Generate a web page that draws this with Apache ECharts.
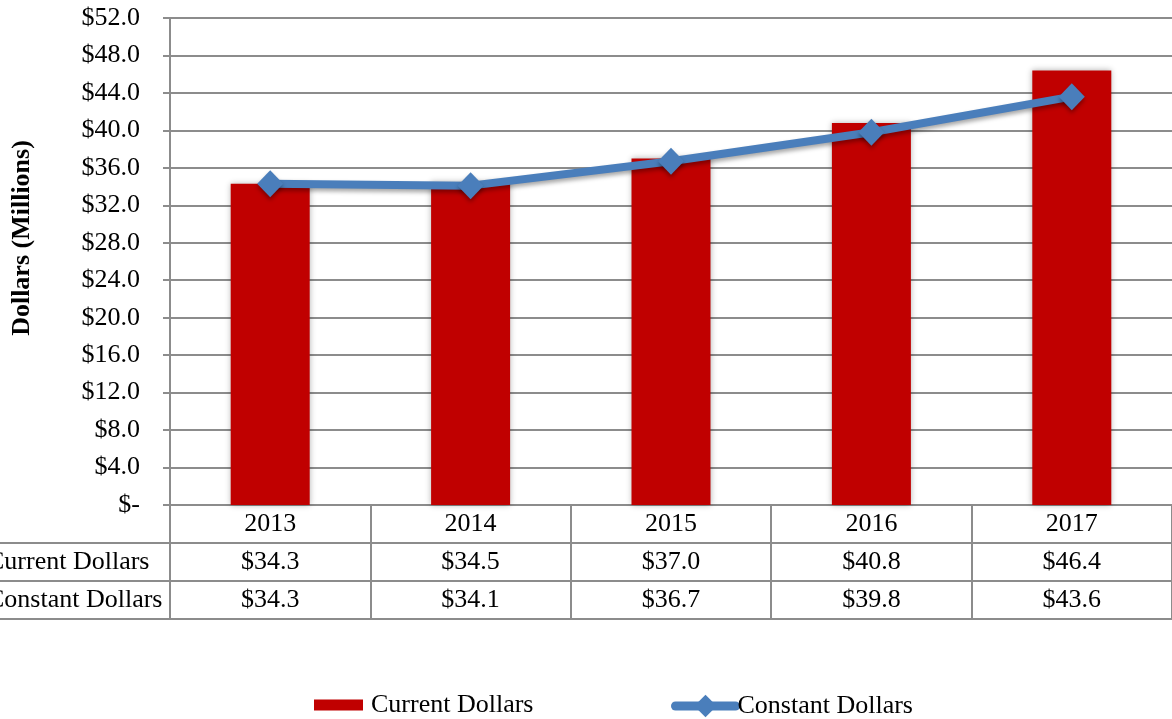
<!DOCTYPE html>
<html><head><meta charset="utf-8">
<script src="https://cdn.jsdelivr.net/npm/echarts@6/dist/echarts.min.js"></script>
<style>html,body{margin:0;padding:0;background:#fff}#c{width:1172px;height:719px}</style>
</head><body><div id="c"></div>
<script>
const years = ['2013', '2014', '2015', '2016', '2017'];
const currentDollars = [34.3, 34.5, 37.0, 40.8, 46.4];
const constantDollars = [34.3, 34.1, 36.7, 39.8, 43.6];
const yMin = 0, yMax = 52, yInterval = 4;
const rowLabels = ['Current Dollars', 'Constant Dollars'];
const yTitle = 'Dollars (Millions)';

const font = 'Liberation Serif';
const gray = '#8c8c8c';
const blue = '#4a7ebb';
const fmt = v => '$' + v.toFixed(1);

function tableAxis(data, offset, showLabel, showTick) {
  return {
    type: 'category', data: data, gridIndex: 0, position: 'bottom', offset: offset,
    boundaryGap: true,
    axisLine: {show: true, onZero: false, lineStyle: {color: gray, width: 2}},
    axisTick: {show: showTick, length: 38, alignWithLabel: false, interval: 0, lineStyle: {color: gray, width: 2}},
    axisLabel: {show: showLabel, interval: 0, margin: 0, lineHeight: 38, fontSize: 26, fontFamily: font, color: '#000'},
    splitLine: {show: false}
  };
}

const chart = echarts.init(document.getElementById('c'));
chart.setOption({
  animation: false,
  backgroundColor: '#fff',
  textStyle: {fontFamily: font, color: '#000'},
  grid: {left: 170, top: 18, width: 1005, height: 487, containLabel: false},
  xAxis: [
    tableAxis(years, 0, true, true),
    tableAxis(currentDollars.map(fmt), 38, true, true),
    tableAxis(constantDollars.map(fmt), 76, true, true),
    tableAxis(years, 114, false, false)
  ],
  yAxis: {
    type: 'value', min: yMin, max: yMax, interval: yInterval,
    axisLine: {show: true, lineStyle: {color: gray, width: 2}},
    axisTick: {show: true, length: 7, lineStyle: {color: gray, width: 2}},
    axisLabel: {formatter: v => v === 0 ? '$-' : fmt(v), fontSize: 26, fontFamily: font, color: '#000', margin: 30},
    splitLine: {show: true, lineStyle: {color: gray, width: 2}}
  },
  legend: [
    {data: ['Current Dollars'], left: 309, top: 687, itemWidth: 49, itemHeight: 11, icon: 'rect',
     textStyle: {fontSize: 26, fontFamily: font, color: '#000', padding: [0, 0, 0, 3]}},
    {data: ['Constant Dollars'], left: 666, top: 688, itemWidth: 60, itemHeight: 28,
     lineStyle: {width: 9, color: blue, cap: 'round'}, itemStyle: {color: blue},
     textStyle: {fontSize: 26, fontFamily: font, color: '#000', padding: [0, 0, 0, -3]}}
  ],
  graphic: [
    {type: 'line', shape: {x1: 0, y1: 543, x2: 170, y2: 543}, style: {stroke: gray, lineWidth: 2}},
    {type: 'line', shape: {x1: 0, y1: 581, x2: 170, y2: 581}, style: {stroke: gray, lineWidth: 2}},
    {type: 'line', shape: {x1: 0, y1: 619, x2: 170, y2: 619}, style: {stroke: gray, lineWidth: 2}},
    {type: 'text', x: -13, y: 562, style: {text: rowLabels[0], font: '26px "Liberation Serif"', fill: '#000', textAlign: 'left', textVerticalAlign: 'middle'}},
    {type: 'text', x: -13, y: 600, style: {text: rowLabels[1], font: '26px "Liberation Serif"', fill: '#000', textAlign: 'left', textVerticalAlign: 'middle'}},
    {type: 'text', x: 22, y: 238, rotation: Math.PI / 2, style: {text: yTitle, font: 'bold 26px "Liberation Serif"', fill: '#000', textAlign: 'center', textVerticalAlign: 'middle'}}
  ],
  series: [
    {type: 'bar', name: 'Current Dollars', data: currentDollars, barWidth: 79, xAxisIndex: 0,
     itemStyle: {color: '#c00000', shadowBlur: 6, shadowColor: 'rgba(0,0,0,0.3)'}},
    {type: 'line', name: 'Constant Dollars', data: constantDollars, xAxisIndex: 0, z: 5,
     symbol: 'diamond', symbolSize: [26, 27],
     lineStyle: {color: blue, width: 8, shadowColor: 'rgba(0,0,0,0.35)', shadowBlur: 4, shadowOffsetY: 3},
     itemStyle: {color: blue, shadowColor: 'rgba(0,0,0,0.35)', shadowBlur: 4, shadowOffsetY: 3}}
  ]
});
</script></body></html>
